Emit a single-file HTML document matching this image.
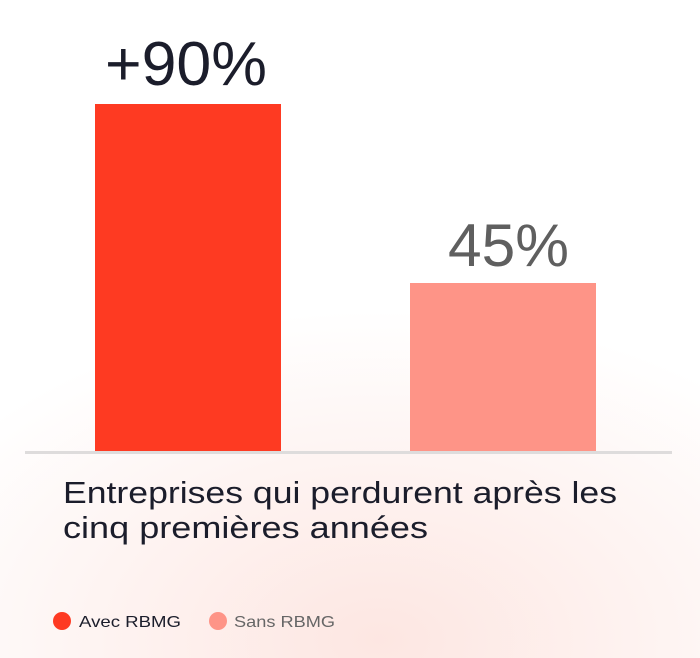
<!DOCTYPE html>
<html><head><meta charset="utf-8"><style>
html,body{margin:0;padding:0}
body{width:700px;height:658px;overflow:hidden;background:#fff;}
.bg{position:absolute;left:0;top:0;width:700px;height:658px;background:radial-gradient(ellipse 520px 330px at 380px 640px, rgba(252,222,216,0.75), rgba(255,255,255,0) 100%);}
svg{position:absolute;left:0;top:0}
</style></head><body>
<div class="bg"></div>
<svg width="700" height="658" xmlns="http://www.w3.org/2000/svg" font-family="Liberation Sans, sans-serif">
<rect x="95" y="104" width="186" height="348" fill="#fe3a22"/>
<rect x="410" y="283" width="186" height="169" fill="#fe9487"/>
<rect x="25" y="451" width="647" height="3" fill="#dedcdc"/>
<text x="105" y="85" font-size="62" fill="#1b1d2b" textLength="162" lengthAdjust="spacingAndGlyphs">+90%</text>
<text x="448" y="266" font-size="60" fill="#5f5f5f" textLength="121" lengthAdjust="spacingAndGlyphs">45%</text>
<text x="63" y="503" font-size="31" fill="#1b1d2b" textLength="554" lengthAdjust="spacingAndGlyphs">Entreprises qui perdurent après les</text>
<text x="63" y="538" font-size="31" fill="#1b1d2b" textLength="365" lengthAdjust="spacingAndGlyphs">cinq premières années</text>
<circle cx="62" cy="621" r="9" fill="#fe3a22"/>
<text x="79" y="627" font-size="16" fill="#1b1d2b" textLength="102" lengthAdjust="spacingAndGlyphs">Avec RBMG</text>
<circle cx="218" cy="621" r="9" fill="#fe9487"/>
<text x="234" y="627" font-size="16" fill="#666" textLength="101" lengthAdjust="spacingAndGlyphs">Sans RBMG</text>
</svg>
</body></html>
